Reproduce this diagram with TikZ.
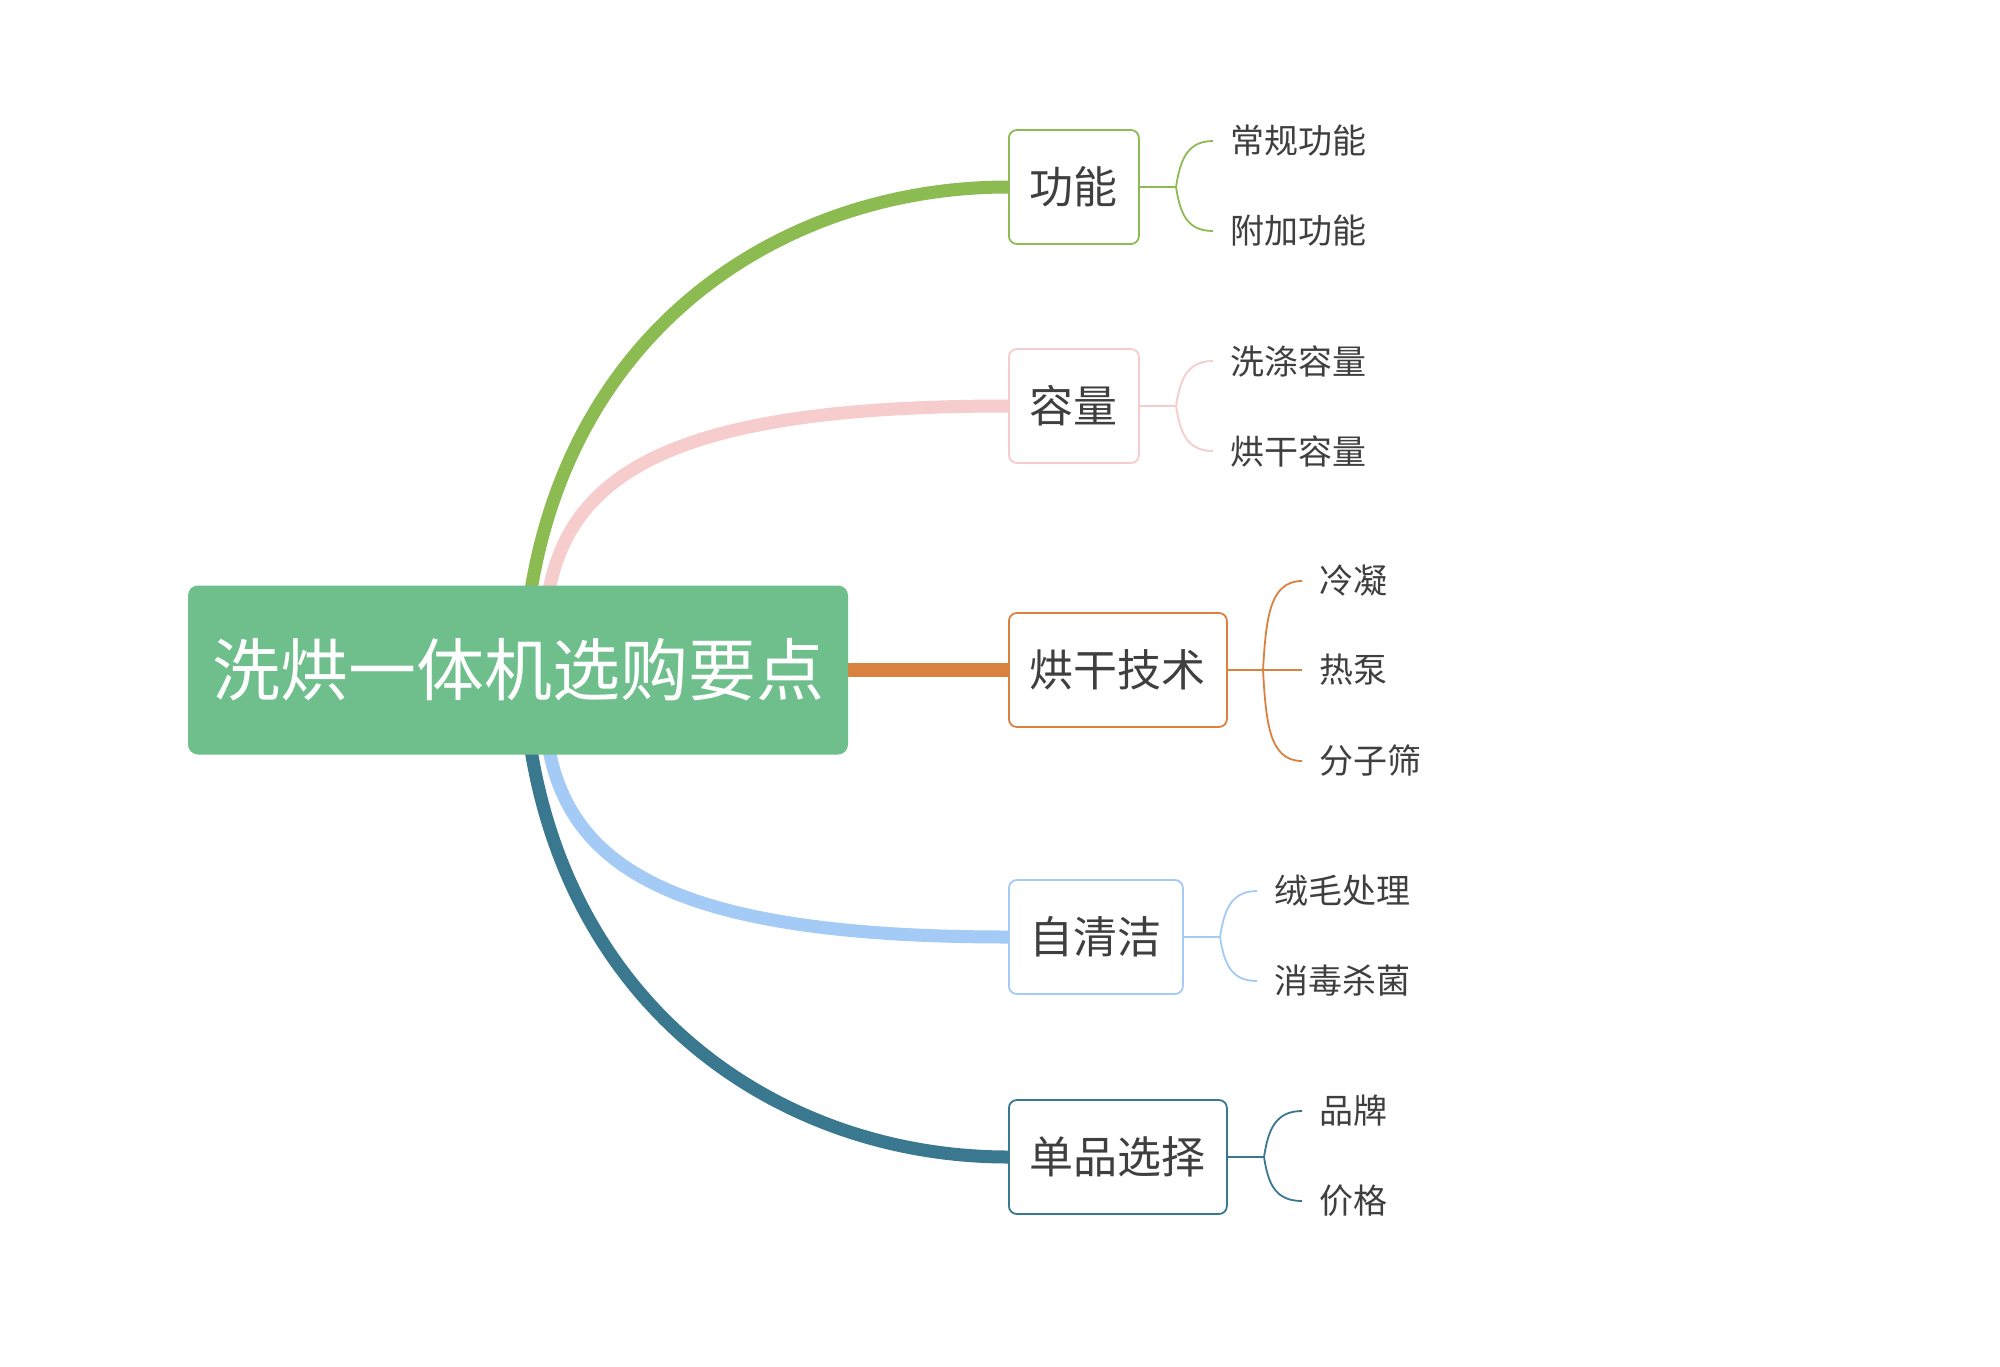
\documentclass[tikz,border=0pt]{standalone}
\usepackage{fontspec}
\newfontfamily\cjk{Noto Sans CJK SC}
\usetikzlibrary{backgrounds,calc}
\definecolor{cGreen}{RGB}{140,187,82}
\definecolor{cPink}{RGB}{246,204,204}
\definecolor{cOrange}{RGB}{217,130,63}
\definecolor{cBlue}{RGB}{164,202,246}
\definecolor{cTeal}{RGB}{58,120,144}
\definecolor{cRoot}{RGB}{111,191,141}
\definecolor{txt}{RGB}{63,63,63}
\begin{document}
\begin{tikzpicture}[x=1pt,y=-1pt,
  rootbox/.style={fill=cRoot, rounded corners=10pt, minimum width=660pt, minimum height=169pt, inner sep=0pt, text=white, font=\cjk\fontsize{68}{68}\selectfont},
  topic/.style={draw, line width=1.8pt, rounded corners=8pt, fill=white, minimum height=114pt, inner xsep=21pt, inner ysep=0pt, anchor=west, text=txt, font=\cjk\fontsize{44}{44}\selectfont},
  leaf/.style={anchor=west, inner xsep=17pt, inner ysep=0pt, text=txt, font=\cjk\fontsize{34}{34}\selectfont},
  mainline/.style={line width=13pt},
  subline/.style={line width=1.8pt}]
\useasboundingbox (0,0) rectangle (2000,1366);

% root and topics
\node[rootbox] (root) at (518,670) {洗烘一体机选购要点};
\node[topic, draw=cGreen] (t1) at (1008,187) {功能};
\node[topic, draw=cPink] (t2) at (1008,406) {容量};
\node[topic, draw=cOrange] (t3) at (1008,670) {烘干技术};
\node[topic, draw=cBlue] (t4) at (1008,937) {自清洁};
\node[topic, draw=cTeal] (t5) at (1008,1157) {单品选择};

% leaves
\node[leaf] (l11) at (1213,141) {常规功能};
\node[leaf] (l12) at (1213,231) {附加功能};
\node[leaf] (l21) at (1213,361) {洗涤容量};
\node[leaf] (l22) at (1213,451) {烘干容量};
\node[leaf] (l31) at (1302,581) {冷凝};
\node[leaf] (l32) at (1302,670) {热泵};
\node[leaf] (l33) at (1302,761) {分子筛};
\node[leaf] (l41) at (1257,891) {绒毛处理};
\node[leaf] (l42) at (1257,981) {消毒杀菌};
\node[leaf] (l51) at (1302,1111) {品牌};
\node[leaf] (l52) at (1302,1201) {价格};

% junction points
\coordinate (s1) at (1176,187);
\coordinate (s2) at (1176,406);
\coordinate (s3) at (1263,670);
\coordinate (s4) at (1220,937);
\coordinate (s5) at (1264,1157);
\coordinate (g0) at ($(root.north west)+(343,6)$);
\coordinate (p0) at ($(root.north west)+(361,6)$);
\coordinate (b0) at ($(root.south west)+(361,-6)$);
\coordinate (d0) at ($(root.south west)+(343,-6)$);

\begin{pgfonlayer}{background}
\fill[white] (0,0) rectangle (2000,1366);
\draw[mainline, cGreen] (g0) .. controls (575,320) and (790,187) .. (t1.west);
\draw[mainline, cPink] (p0) .. controls (572,470) and (680,406) .. (t2.west);
\draw[mainline, cBlue] (b0) .. controls (572,870) and (680,937) .. (t4.west);
\draw[mainline, cTeal] (d0) .. controls (575,1020) and (790,1157) .. (t5.west);
\draw[line width=14pt, cOrange] (root.east) -- (t3.west);
\end{pgfonlayer}

% sub connectors
\draw[subline, cGreen] (t1.east) -- (s1);
\draw[subline, cGreen] (s1) .. controls ($(s1)+(4,-25)$) and ($(s1)+(10,-46)$) .. (l11.west);
\draw[subline, cGreen] (s1) .. controls ($(s1)+(4,25)$) and ($(s1)+(10,44)$) .. (l12.west);

\draw[subline, cPink] (t2.east) -- (s2);
\draw[subline, cPink] (s2) .. controls ($(s2)+(4,-25)$) and ($(s2)+(10,-45)$) .. (l21.west);
\draw[subline, cPink] (s2) .. controls ($(s2)+(4,25)$) and ($(s2)+(10,45)$) .. (l22.west);

\draw[subline, cOrange] (t3.east) -- (l32.west);
\draw[subline, cOrange] (s3) .. controls ($(s3)+(3,-50)$) and ($(s3)+(6,-89)$) .. (l31.west);
\draw[subline, cOrange] (s3) .. controls ($(s3)+(3,52)$) and ($(s3)+(6,91)$) .. (l33.west);

\draw[subline, cBlue] (t4.east) -- (s4);
\draw[subline, cBlue] (s4) .. controls ($(s4)+(4,-25)$) and ($(s4)+(10,-46)$) .. (l41.west);
\draw[subline, cBlue] (s4) .. controls ($(s4)+(4,25)$) and ($(s4)+(10,44)$) .. (l42.west);

\draw[subline, cTeal] (t5.east) -- (s5);
\draw[subline, cTeal] (s5) .. controls ($(s5)+(4,-25)$) and ($(s5)+(10,-46)$) .. (l51.west);
\draw[subline, cTeal] (s5) .. controls ($(s5)+(4,25)$) and ($(s5)+(10,44)$) .. (l52.west);
\end{tikzpicture}
\end{document}
